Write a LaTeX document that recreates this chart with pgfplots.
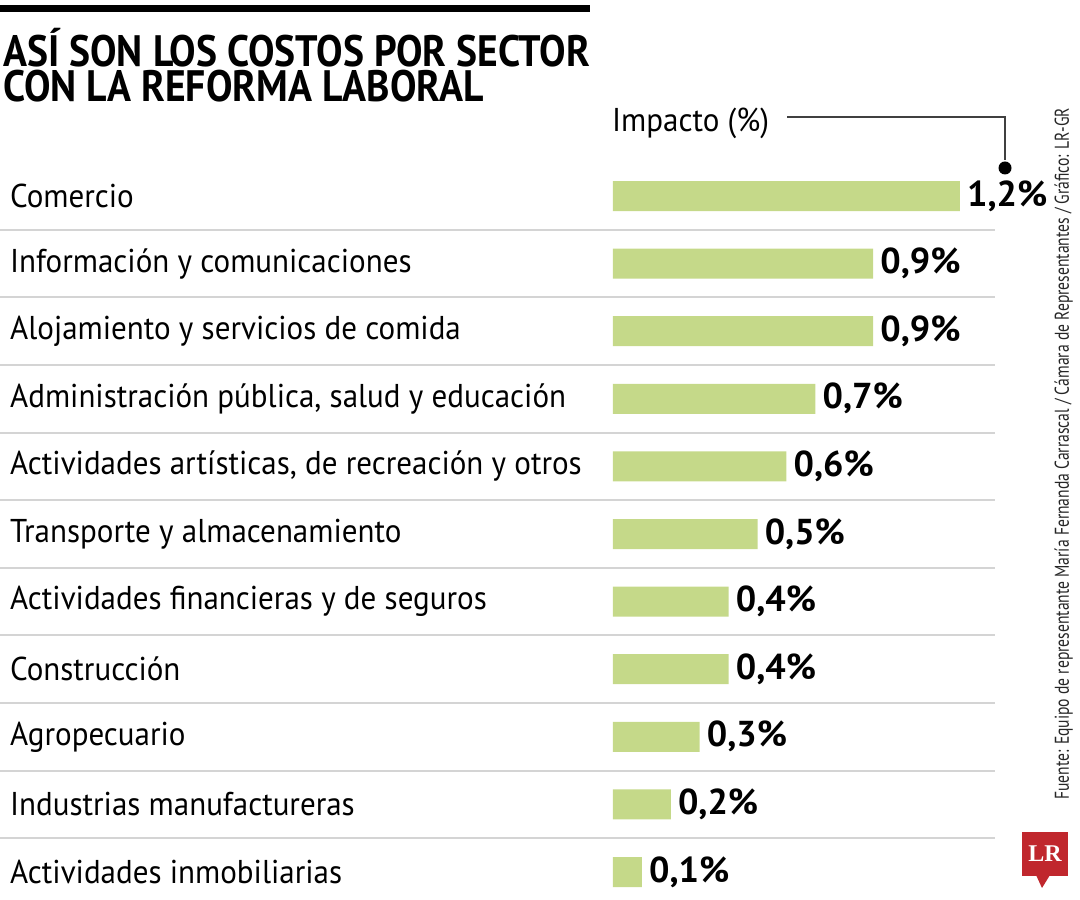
\documentclass[border=0pt]{standalone}
\usepackage{pgfplots}
\pgfplotsset{compat=1.18}
\usepackage{fontspec}
\setmainfont{PT Sans}
\newfontfamily\labfont{PT Sans}[FakeStretch=0.94]
\newfontfamily\titlefont{PT Sans}[FakeStretch=0.9]
\newfontfamily\condfont{PT Sans}[FakeStretch=0.78]
\newfontfamily\logofont{Liberation Serif}
\definecolor{barcol}{RGB}{197,217,137}
\definecolor{sepcol}{RGB}{212,212,212}
\definecolor{lrred}{RGB}{192,39,45}
\begin{document}
\begin{tikzpicture}[x=1pt,y=1pt]
\useasboundingbox (0,0) rectangle (1080,900);
% top rule
\fill[black] (0,888) rectangle (590,895);
% title
\node[anchor=base west,inner sep=0pt,text height=31pt,text depth=0pt,font=\titlefont\bfseries\fontsize{44}{36}\selectfont] at (3,833) {ASÍ SON LOS COSTOS POR SECTOR};
\node[anchor=base west,inner sep=0pt,text height=31pt,text depth=0pt,font=\titlefont\bfseries\fontsize{44}{36}\selectfont] at (3,798) {CON LA REFORMA LABORAL};
\begin{axis}[
  at={(613pt,-5.8pt)}, anchor=south west,
  scale only axis, width=347pt, height=743.6pt,
  xmin=0, xmax=1.2, ymin=-0.5, ymax=10.5,
  y dir=reverse, clip=false,
  xbar, bar width=30pt,
  axis line style={draw=none}, major tick length=0pt,
  xtick=\empty,
  ytick={0,...,10},
  yticklabels={Comercio,Información y comunicaciones,Alojamiento y servicios de comida,{Administración pública, salud y educación},{Actividades artísticas, de recreación y otros},Transporte y almacenamiento,Actividades financieras y de seguros,Construcción,Agropecuario,Industrias manufactureras,Actividades inmobiliarias},
  yticklabel style={anchor=west, inner sep=0pt, xshift=-603pt, font=\labfont\fontsize{33}{36}\selectfont},
  /pgf/number format/assume math mode=true,
  nodes near coords={\pgfmathprintnumber[fixed,fixed zerofill,precision=1,use comma]{\pgfplotspointmeta}\%},
  every node near coord/.append style={anchor=west, inner sep=0pt, xshift=7pt, font=\bfseries\fontsize{36}{40}\selectfont, black},
]
\addplot[fill=barcol, draw=none] coordinates {
(1.2,0) (0.9,1) (0.9,2) (0.7,3) (0.6,4) (0.5,5) (0.4,6) (0.4,7) (0.3,8) (0.2,9) (0.1,10)};
\pgfplotsinvokeforeach{0.5,1.5,2.5,3.5,4.5,5.5,6.5,7.5,8.5,9.5}{
  \draw[sepcol, line width=2pt] (axis cs:-2.12,#1) -- (axis cs:1.321,#1);
}
\end{axis}
% Impacto label and leader
\node[anchor=west,inner sep=0pt,font=\labfont\fontsize{33}{36}\selectfont] at (612,777) {Impacto (\%)};
\draw[black!75, line width=1.3pt] (787,783) -- (1005,783) -- (1005,740);
\fill[black] (1005,732) circle (6.5);
% source
\node[rotate=90, anchor=south west, inner sep=0pt, font=\condfont\fontsize{20}{20}\selectfont, black!85] at (1073,100) {Fuente: Equipo de representante María Fernanda Carrascal / Cámara de Representantes / Gráfico: LR-GR};
% logo
\fill[lrred] (1022,24) -- (1068,24) -- (1068,68) -- (1022,68) -- cycle;
\fill[lrred] (1036,25) -- (1042,12) -- (1050,25) -- cycle;
\node[white, font=\logofont\bfseries\fontsize{24}{24}\selectfont, inner sep=0pt] at (1045,46) {LR};
\end{tikzpicture}
\end{document}
